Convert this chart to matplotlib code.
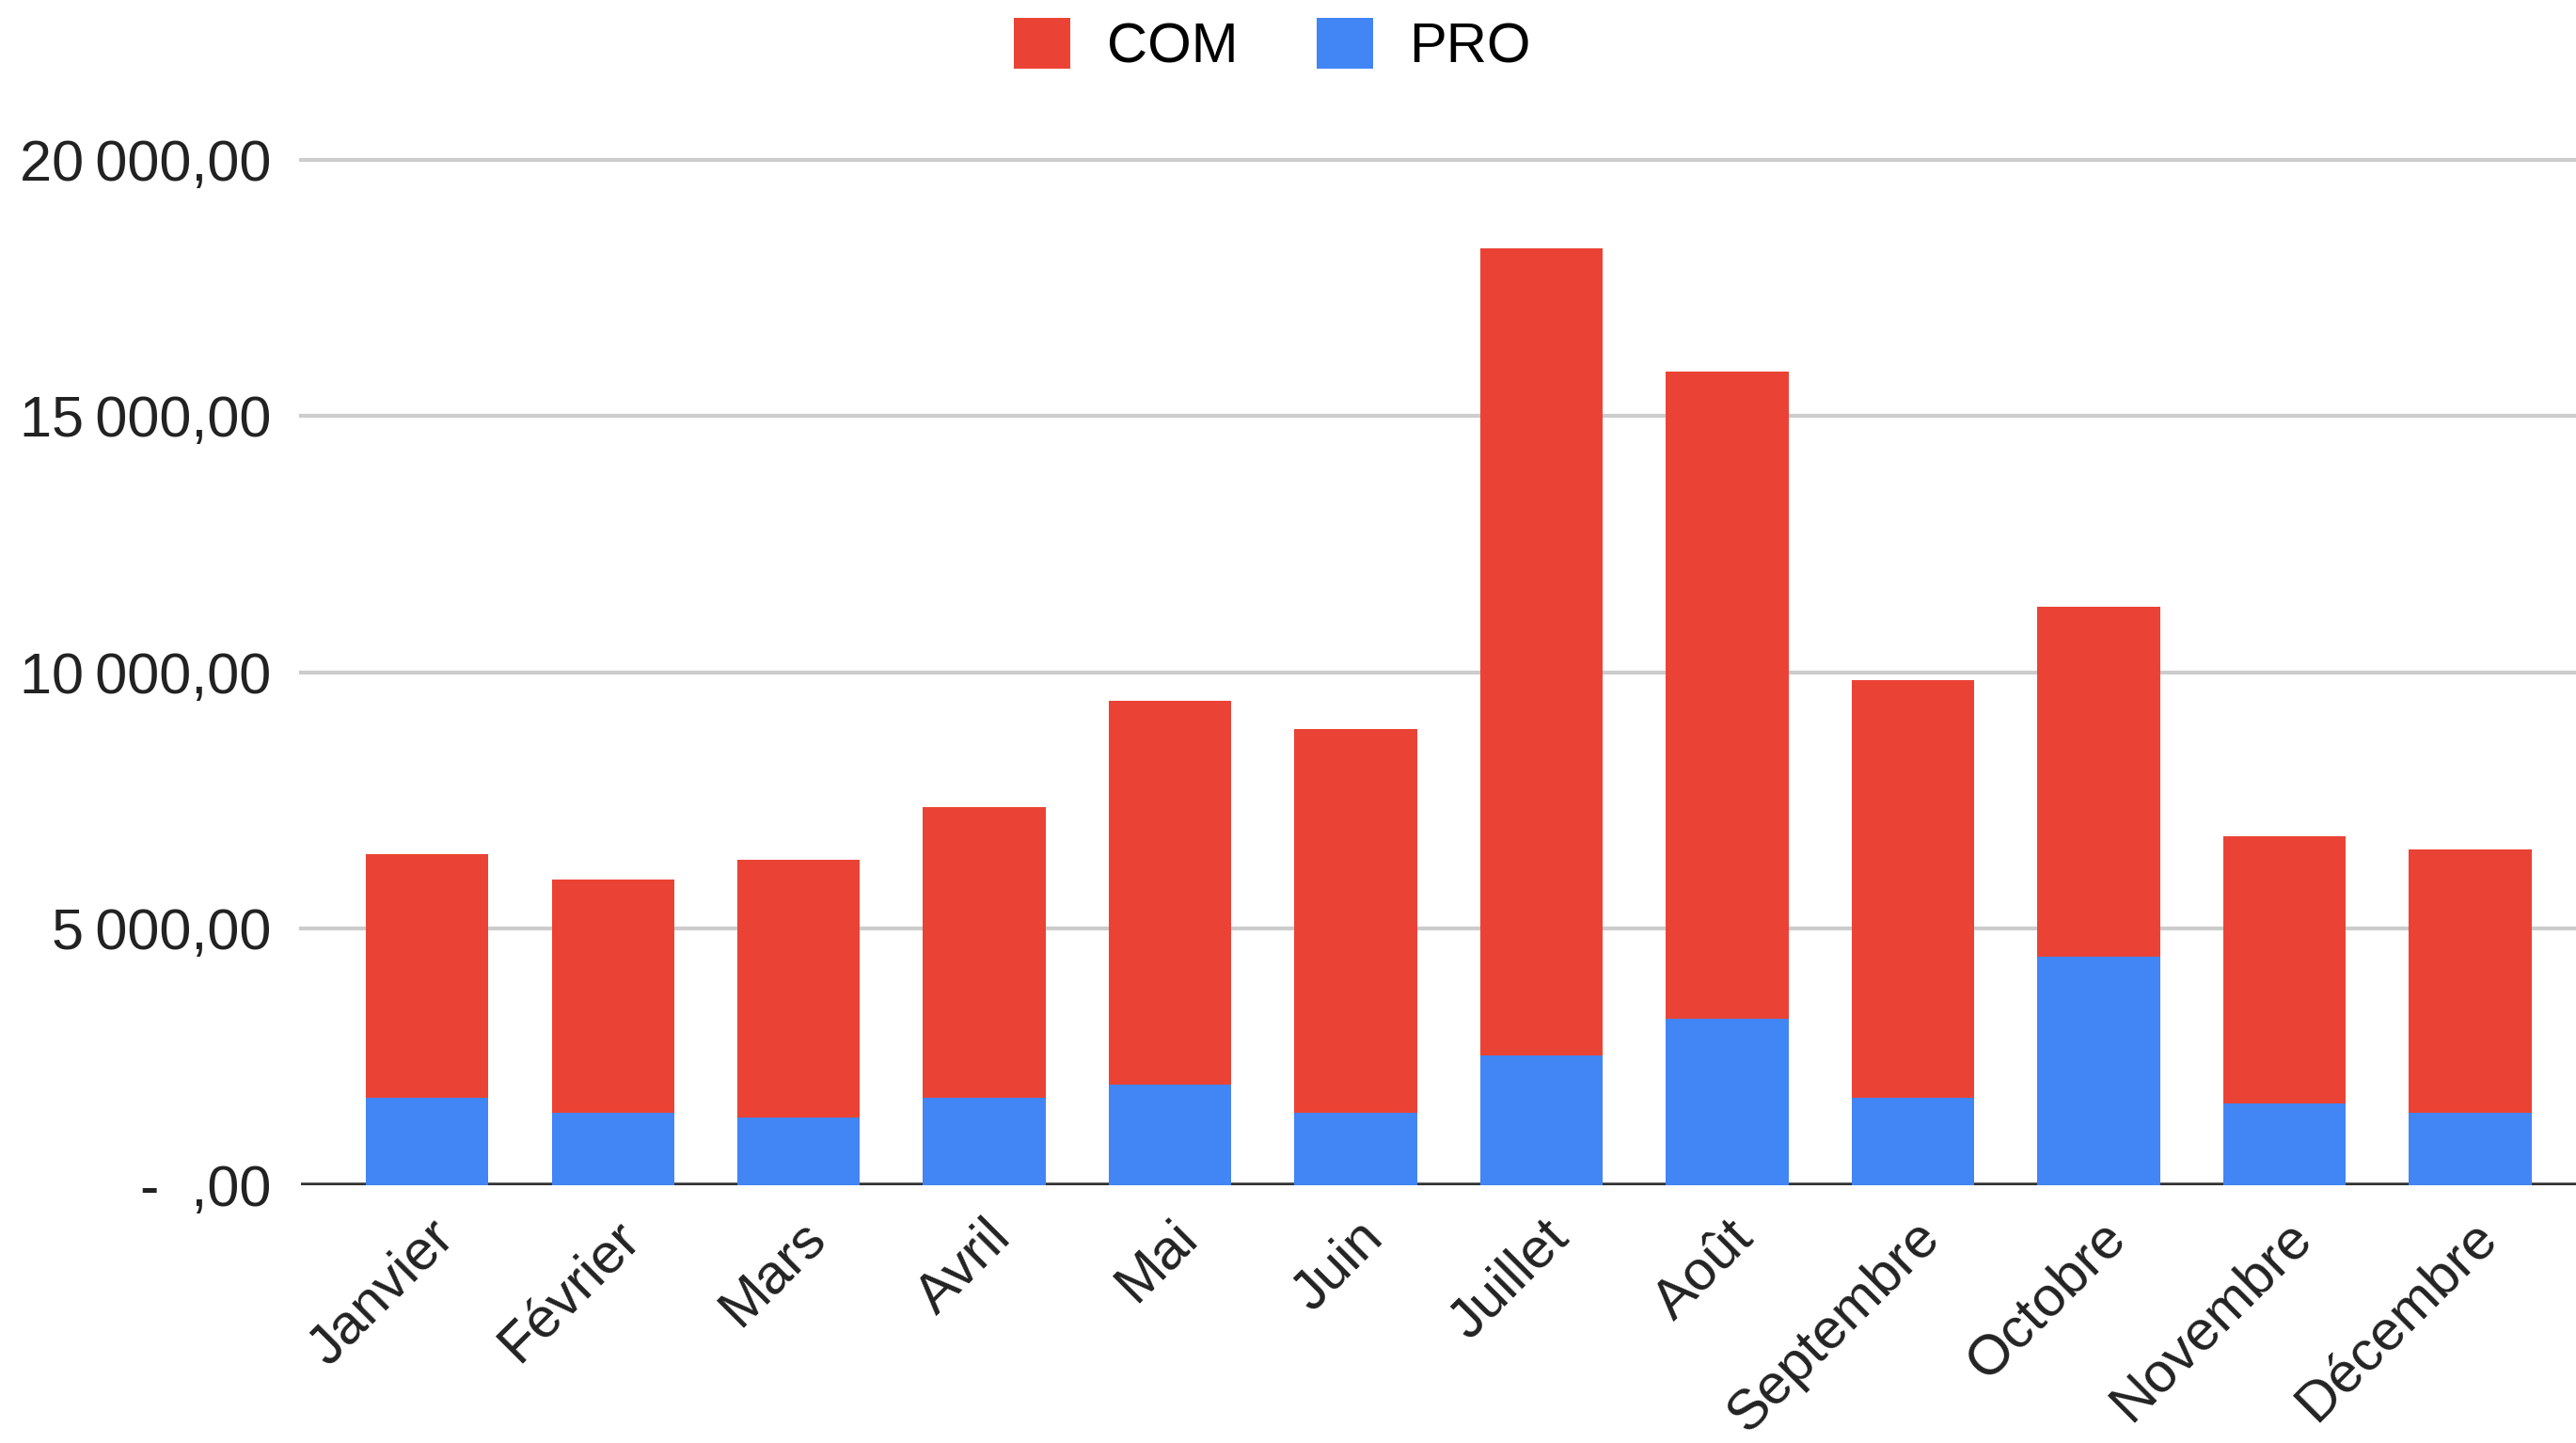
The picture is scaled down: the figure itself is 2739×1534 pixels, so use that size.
import matplotlib
matplotlib.use('Agg')
import matplotlib.pyplot as plt
from matplotlib.patches import Patch
from matplotlib.ticker import FixedLocator

plt.rcParams['font.family'] = ['Liberation Sans', 'DejaVu Sans']

mois = ['Janvier', 'Février', 'Mars', 'Avril', 'Mai', 'Juin', 'Juillet',
        'Août', 'Septembre', 'Octobre', 'Novembre', 'Décembre']
pro = [1700, 1410, 1310, 1700, 1950, 1410, 2530, 3240, 1700, 4450, 1600, 1410]
total = [6450, 5960, 6350, 7370, 9450, 8900, 18270, 15870, 9840, 11280, 6800, 6540]
com = [t - p for t, p in zip(total, pro)]

y_ticks = [0, 5000, 10000, 15000, 20000]
y_labels = ['-  ,00', '5\u2009000,00', '10\u2009000,00', '15\u2009000,00', '20\u2009000,00']

RED = '#EA4335'
BLUE = '#4285F4'

fig = plt.figure(figsize=(27.39, 15.34), dpi=100)
ax = fig.add_axes([0.1168, 0.1788, 0.8832, 0.7107])

x = list(range(len(mois)))
ax.bar(x, pro, width=0.66, color=BLUE, zorder=3)
ax.bar(x, com, bottom=pro, width=0.66, color=RED, zorder=3)

ax.set_xlim(-0.68, 11.57)
ax.set_ylim(0, 20000)

ax.yaxis.set_major_locator(FixedLocator(y_ticks))
ax.set_yticklabels(y_labels, fontsize=44, color='#222222')
ax.set_xticks(x)
ax.set_xticklabels(mois, fontsize=43, color='#222222', rotation=45,
                   ha='right', rotation_mode='anchor')
ax.tick_params(axis='both', length=0)
ax.tick_params(axis='y', pad=23)
ax.tick_params(axis='x', pad=20)

for v in y_ticks[1:]:
    ax.axhline(v, color='#cccccc', linewidth=3, zorder=1, clip_on=False)
ax.axhline(0, color='#333333', linewidth=4, zorder=2)

for s in ax.spines.values():
    s.set_visible(False)

handles = [Patch(facecolor=RED, label='COM'), Patch(facecolor=BLUE, label='PRO')]
fig.legend(handles=handles, loc='center', bbox_to_anchor=(0.494, 0.968),
           ncol=2, frameon=False, fontsize=43, handlelength=1.0,
           handleheight=1.0, handletextpad=0.65, columnspacing=1.4)

fig.savefig('out.png', dpi=100, facecolor='white')
